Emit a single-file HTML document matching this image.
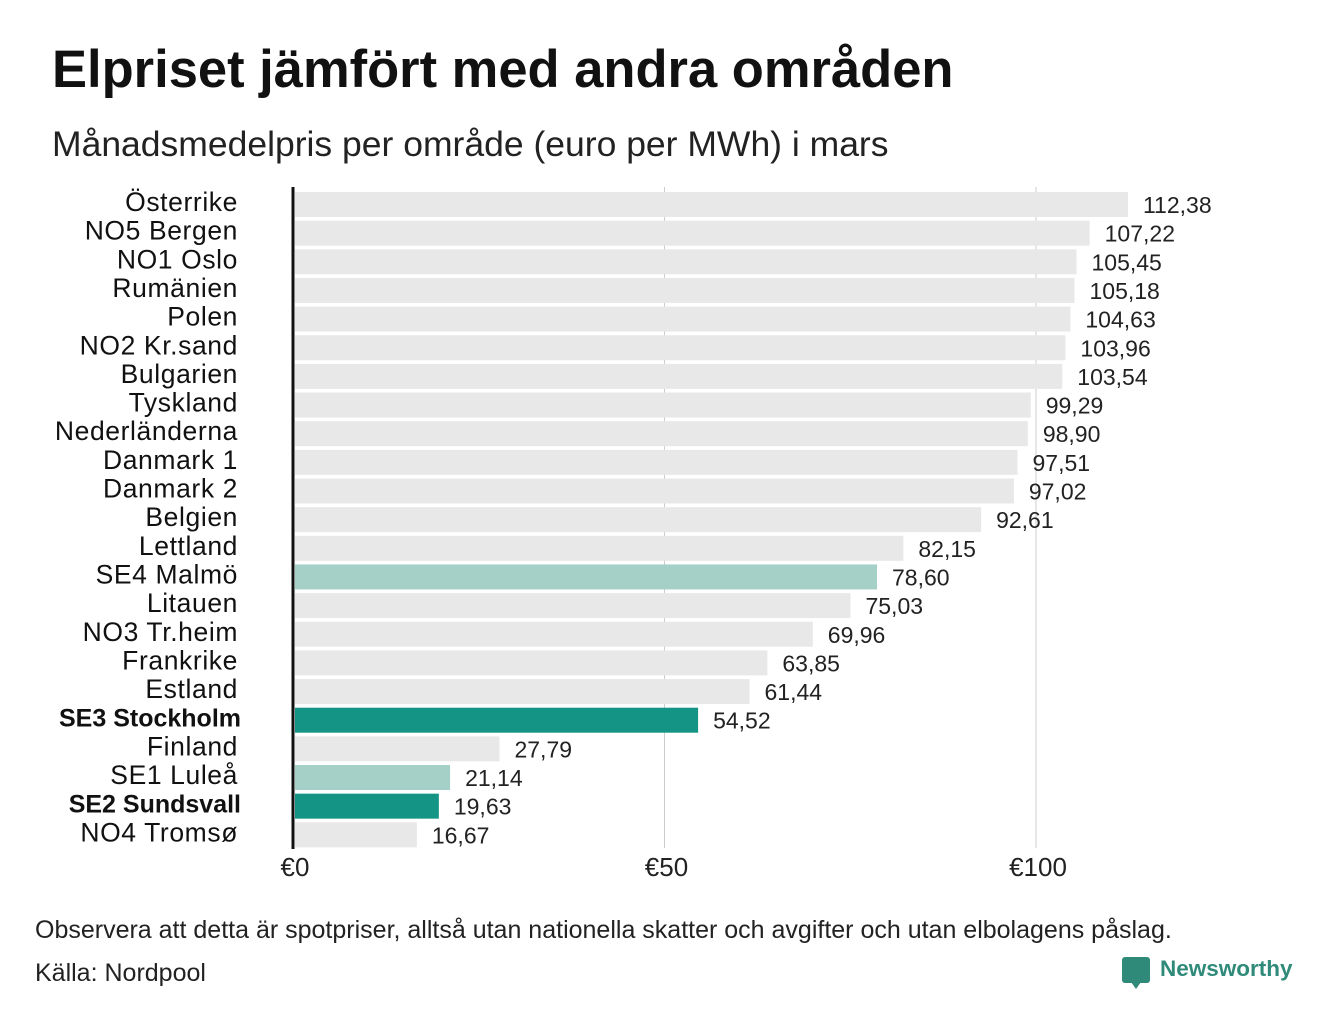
<!DOCTYPE html>
<html><head><meta charset="utf-8"><style>
body{margin:0;background:#fff;width:1340px;height:1020px;overflow:hidden;font-family:"Liberation Sans","DejaVu Sans",sans-serif;position:relative}
.t{position:absolute;white-space:nowrap}
</style></head><body>
<div class="t" style="left:52px;top:39px;font-size:52.5px;font-weight:bold;color:#111">Elpriset jämfört med andra områden</div>
<div class="t" style="left:52px;top:124px;font-size:35.5px;color:#222">Månadsmedelpris per område (euro per MWh) i mars</div>
<svg id="chart" width="1340" height="900" style="position:absolute;left:0;top:0"></svg>
<div class="t" style="left:35px;top:916px;font-size:25px;color:#222">Observera att detta är spotpriser, alltså utan nationella skatter och avgifter och utan elbolagens påslag.</div>
<div class="t" style="left:35px;top:959px;font-size:25px;color:#222">Källa: Nordpool</div>
<div style="position:absolute;left:1122px;top:957px;width:28px;height:26px;background:#2f8a7a;border-radius:3px"></div>
<div style="position:absolute;left:1131px;top:982px;width:0;height:0;border-left:5px solid transparent;border-right:5px solid transparent;border-top:7px solid #2f8a7a"></div>
<div class="t" style="left:1160px;top:956px;font-size:22.5px;font-weight:bold;color:#2f8a7a">Newsworthy</div>
<script>
const categories=["Österrike","NO5 Bergen","NO1 Oslo","Rumänien","Polen","NO2 Kr.sand","Bulgarien","Tyskland","Nederländerna","Danmark  1","Danmark  2","Belgien","Lettland","SE4  Malmö","Litauen","NO3 Tr.heim","Frankrike","Estland","SE3 Stockholm","Finland","SE1  Luleå","SE2 Sundsvall","NO4 Tromsø"];
const values=[112.38,107.22,105.45,105.18,104.63,103.96,103.54,99.29,98.90,97.51,97.02,92.61,82.15,78.60,75.03,69.96,63.85,61.44,54.52,27.79,21.14,19.63,16.67];
const highlight=["","","","","","","","","","","","","","light","","","","","dark","","light","dark",""];
const ticks=[0,50,100];
const tickLabels=["€0","€50","€100"];
const svg=document.getElementById('chart');
const NS='http://www.w3.org/2000/svg';
const x=v=>293+v*7.43;
const y=i=>192+i*28.65;
function mk(t,a){const e=document.createElementNS(NS,t);for(const k in a)e.setAttribute(k,a[k]);svg.appendChild(e);return e;}
ticks.forEach((t,i)=>{
 if(t>0){const g=mk('line',{x1:x(t),x2:x(t),y1:187,y2:848,stroke:'#cccccc','stroke-width':1});
 
 }
 const l=mk('text',{x:x(t)+2,y:876,'font-size':26,fill:'#222','text-anchor':'middle'});l.textContent=tickLabels[i];
 
 
});
values.forEach((v,i)=>{
 const c=highlight[i]==='dark'?'#139484':highlight[i]==='light'?'#a4d0c7':'#e8e8e8';
 const r=mk('rect',{x:295,y:y(i),width:x(v)-295,height:25,fill:c});
 
 
 const vl=mk('text',{x:x(v)+15,y:y(i)+21,'font-size':23,fill:'#222'});vl.textContent=v.toFixed(2).replace('.',',');
 
 
 const b=highlight[i]==='dark';
 const cl=mk('text',{x:b?241:238,y:y(i)+19,'font-size':b?25:26.5,'font-weight':b?'bold':'normal',fill:'#111','text-anchor':'end','letter-spacing':b?0:0.6});cl.textContent=categories[i];
 
 
});
const ax=mk('line',{x1:293,x2:293,y1:187,y2:849,stroke:'#111','stroke-width':3});


</script>
</body></html>
